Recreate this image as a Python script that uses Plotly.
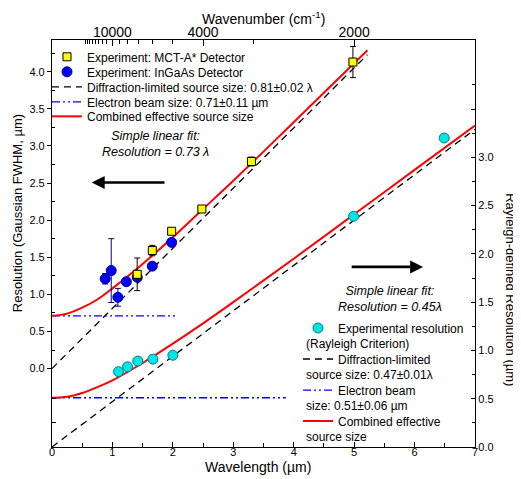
import plotly.graph_objects as go

FONT = "Liberation Sans, Arial, sans-serif"

# ---------------- Upper layer (left axis): Gaussian FWHM resolution ----------------
mct_wl = [1.41, 1.66, 1.98, 2.48, 3.30, 4.98]
mct_res = [1.27, 1.59, 1.85, 2.15, 2.79, 4.13]
mct_err = [0.22, 0.07, 0.04, 0.03, 0.06, 0.21]

ingaas_wl = [0.88, 0.98, 1.09, 1.23, 1.41, 1.66, 1.98]
ingaas_res = [1.21, 1.32, 0.96, 1.17, 1.23, 1.38, 1.70]
ingaas_err = [0.07, 0.43, 0.12, 0.04, 0.04, 0.04, 0.04]

upper_diff_wl = [0.0, 5.22]
upper_diff_res = [0.0, 4.23]
upper_beam_wl = [0.0, 2.08]
upper_beam_res = [0.71, 0.71]
upper_comb_wl = [0.0, 0.25, 0.5, 0.75, 1.0, 1.5, 2.0, 2.5, 3.0, 4.0, 5.22]
upper_comb_res = [0.71, 0.74, 0.82, 0.93, 1.08, 1.41, 1.77, 2.15, 2.53, 3.32, 4.29]

# ---------------- Lower layer (right axis): Rayleigh resolution ----------------
ray_wl = [1.10, 1.25, 1.42, 1.67, 2.00, 4.99, 6.49]
ray_res = [0.78, 0.83, 0.89, 0.91, 0.95, 2.39, 3.20]

lower_diff_wl = [0.0, 7.0]
lower_diff_res = [0.0, 3.29]
lower_beam_wl = [0.0, 3.87]
lower_beam_res = [0.51, 0.51]
lower_comb_wl = [0.0, 0.25, 0.5, 0.75, 1.0, 1.5, 2.0, 2.5, 3.0, 4.0, 5.0, 6.0, 7.0]
lower_comb_res = [0.51, 0.52, 0.56, 0.62, 0.69, 0.87, 1.07, 1.28, 1.50, 1.95, 2.41, 2.87, 3.33]

# ---------------- Axis ticks ----------------
bottom_ticks = [0, 1, 2, 3, 4, 5, 6, 7]
bottom_minor = [0.5, 1.5, 2.5, 3.5, 4.5, 5.5, 6.5]
left_ticks = [0.0, 0.5, 1.0, 1.5, 2.0, 2.5, 3.0, 3.5, 4.0]
left_minor = [0.25, 0.75, 1.25, 1.75, 2.25, 2.75, 3.25, 3.75, 4.25]
left_lower_ticks = [0.25, 0.5]      # lower-layer ticks on the left side (right-axis units)
right_ticks = [0.0, 0.5, 1.0, 1.5, 2.0, 2.5, 3.0, 3.5]
right_labels = ["0.0", "0.5", "1.0", "1.5", "2.0", "2.5", "3.0", ""]
right_minor = [0.25, 0.75, 1.25, 1.75, 2.25, 2.75, 3.25, 3.75]
wn_major = [10000, 4000, 2000]
wn_minor = [18000, 17000, 16000, 15000, 14000, 13000, 12000, 11000,
            9000, 8000, 7000, 6000, 5000, 3000]

# ---------------- Legend texts ----------------
upper_names = ["Experiment: MCT-A* Detector",
               "Experiment: InGaAs Detector",
               "Diffraction-limited source size: 0.81±0.02 λ",
               "Electron beam size: 0.71±0.11 µm",
               "Combined effective source size"]
lower_names = ["Experimental resolution", "Diffraction-limited",
               "Electron beam", "Combined effective"]
lower_names2 = ["(Rayleigh Criterion)", "source size: 0.47±0.01λ",
                "size: 0.51±0.06 µm", "source size"]

# page geometry: the page body has an 8px margin, so the figure is drawn at (8, 8)
OFF = 8
FIG_W, FIG_H = 521 - OFF, 479 - OFF
# plot-area edges in window pixels
L, R, T, B = 52, 475, 40, 446.7
PW, PH = R - L, B - T


def px_x(x):
    return (x - L) / PW


def px_y(y):
    return (B - y) / PH


upper_leg_centers = [57, 72, 87, 102, 116.5]
lower_leg_centers = [328, 359, 390, 421]
LEG_OFF = 14.5

fig = go.Figure()

# upper layer
fig.add_trace(go.Scatter(x=upper_diff_wl, y=upper_diff_res, mode="lines",
                         line=dict(color="black", width=1.3, dash="7px,5px"),
                         name=upper_names[2], legend="legend3"))
fig.add_trace(go.Scatter(x=upper_beam_wl, y=upper_beam_res, mode="lines",
                         line=dict(color="#0000FF", width=1.3, dash="8px,3px,2px,3px,2px,3px"),
                         name=upper_names[3], legend="legend4"))
fig.add_trace(go.Scatter(x=upper_comb_wl, y=upper_comb_res, mode="lines",
                         line=dict(color="#FF0000", width=2, shape="spline"),
                         name=upper_names[4], legend="legend5"))
fig.add_trace(go.Scatter(x=ingaas_wl, y=ingaas_res, mode="markers",
                         marker=dict(symbol="circle", size=10, color="#0000FF",
                                     line=dict(color="#00008B", width=1)),
                         error_y=dict(type="data", array=ingaas_err, color="#00008B",
                                      thickness=1, width=3),
                         name=upper_names[1], legend="legend2"))
fig.add_trace(go.Scatter(x=mct_wl, y=mct_res, mode="markers",
                         marker=dict(symbol="square", size=8, color="#FFFF00",
                                     line=dict(color="black", width=1)),
                         error_y=dict(type="data", array=mct_err, color="black",
                                      thickness=1, width=3),
                         name=upper_names[0], legend="legend"))

# lower layer (right axis)
fig.add_trace(go.Scatter(x=lower_diff_wl, y=lower_diff_res, mode="lines", yaxis="y2",
                         line=dict(color="black", width=1.3, dash="7px,5px"),
                         name=lower_names[1], legend="legend7"))
fig.add_trace(go.Scatter(x=lower_beam_wl, y=lower_beam_res, mode="lines", yaxis="y2",
                         line=dict(color="#0000FF", width=1.3, dash="8px,3px,2px,3px,2px,3px"),
                         name=lower_names[2], legend="legend8"))
fig.add_trace(go.Scatter(x=lower_comb_wl, y=lower_comb_res, mode="lines", yaxis="y2",
                         line=dict(color="#FF0000", width=2, shape="spline"),
                         name=lower_names[3], legend="legend9"))
fig.add_trace(go.Scatter(x=ray_wl, y=ray_res, mode="markers", yaxis="y2",
                         marker=dict(symbol="circle", size=10, color="#00E6E6",
                                     line=dict(color="#008080", width=1)),
                         name=lower_names[0], legend="legend6"))

# dummy traces to carry the decorative axes
fig.add_trace(go.Scatter(x=[None], y=[None], xaxis="x2", yaxis="y",
                         showlegend=False, hoverinfo="skip"))
fig.add_trace(go.Scatter(x=[None], y=[None], xaxis="x", yaxis="y3",
                         showlegend=False, hoverinfo="skip"))

axis_common = dict(showline=True, linecolor="black", linewidth=1.2, showgrid=False,
                   zeroline=False, tickcolor="black", tickwidth=1, automargin=False)


def leg(xp, ycenter):
    return dict(x=xp, y=px_y(ycenter - LEG_OFF), xanchor="left", yanchor="top",
                bgcolor="rgba(0,0,0,0)", borderwidth=0,
                font=dict(family=FONT, size=12, color="black"), itemwidth=30,
                tracegroupgap=0, valign="top")


legends = {}
keys = ["legend", "legend2", "legend3", "legend4", "legend5"]
for k, yc in zip(keys, upper_leg_centers):
    legends[k] = leg(px_x(47), yc)
keys2 = ["legend6", "legend7", "legend8", "legend9"]
for k, yc in zip(keys2, lower_leg_centers):
    legends[k] = leg(px_x(298), yc)

fig.update_layout(
    width=FIG_W, height=FIG_H,
    margin=dict(l=L - OFF, r=OFF + FIG_W - R, t=T - OFF, b=OFF + FIG_H - B,
                pad=0, autoexpand=False),
    plot_bgcolor="white", paper_bgcolor="white",
    font=dict(family=FONT, size=11, color="black"),
    xaxis=dict(range=[0, 7], tickmode="array", tickvals=bottom_ticks,
               ticks="inside", ticklen=5, ticklabelstandoff=-5,
               minor=dict(tickmode="array", tickvals=bottom_minor, ticks="inside",
                          ticklen=4, tickcolor="black"),
               **axis_common),
    xaxis2=dict(range=[0, 7], overlaying="x", side="top", anchor="y",
                tickmode="array", tickvals=[1e4 / w for w in wn_major],
                ticktext=[str(w) for w in wn_major],
                ticks="inside", ticklen=6, tickfont=dict(size=14), ticklabelstandoff=-4,
                minor=dict(tickmode="array", tickvals=[1e4 / w for w in wn_minor],
                           ticks="inside", ticklen=4, tickcolor="black"),
                **axis_common),
    yaxis=dict(range=[-1.057, 4.427], tickmode="array", tickvals=left_ticks,
               ticktext=[f"{v:.1f}" for v in left_ticks],
               ticks="outside", ticklen=4,
               minor=dict(tickmode="array", tickvals=left_minor, ticks="inside",
                          ticklen=3, tickcolor="black"),
               **axis_common),
    yaxis2=dict(range=[0, 4.215], overlaying="y", side="right", anchor="x",
                tickmode="array", tickvals=right_ticks, ticktext=right_labels,
                ticks="inside", ticklen=4,
                minor=dict(tickmode="array", tickvals=right_minor, ticks="inside",
                           ticklen=3, tickcolor="black"),
                **axis_common),
    yaxis3=dict(range=[0, 4.215], overlaying="y", side="left", anchor="x",
                tickmode="array", tickvals=left_lower_ticks, showticklabels=False,
                ticks="inside", ticklen=4, tickcolor="black", showline=False,
                showgrid=False, zeroline=False, automargin=False),
    showlegend=True,
    **legends,
)

annotations = [
    dict(text="Resolution (Gaussian FWHM, µm)", xref="paper", yref="paper",
         x=px_x(17), y=px_y(213), textangle=-90, showarrow=False,
         font=dict(size=13), xanchor="center", yanchor="middle"),
    dict(text="Rayleigh-defined Resolution (µm)", xref="paper", yref="paper",
         x=px_x(511), y=px_y(290), textangle=90, showarrow=False,
         font=dict(size=13), xanchor="center", yanchor="middle"),
    dict(text="Wavelength (µm)", xref="paper", yref="paper",
         x=px_x(258), y=px_y(467), showarrow=False,
         font=dict(size=14), xanchor="center", yanchor="middle"),
    dict(text="Wavenumber (cm<sup>-1</sup>)", xref="paper", yref="paper",
         x=px_x(263), y=px_y(18), showarrow=False,
         font=dict(size=14), xanchor="center", yanchor="middle"),
    dict(text="<i>Simple linear fit:</i><br><i>Resolution = 0.73 λ</i>", xref="x", yref="y",
         x=1.705, y=3.02, showarrow=False, font=dict(size=12.5), align="center"),
    dict(text="<i>Simple linear fit:</i><br><i>Resolution = 0.45λ</i>", xref="x", yref="y2",
         x=5.6, y=1.53, showarrow=False, font=dict(size=12.5), align="center"),
    dict(text="", xref="x", yref="y", x=0.657, y=2.507, axref="x", ayref="y",
         ax=1.887, ay=2.507, showarrow=True, arrowhead=2, arrowsize=1,
         arrowwidth=2.6, arrowcolor="black", standoff=0),
    dict(text="", xref="x", yref="y2", x=6.142, y=1.865, axref="x", ayref="y2",
         ax=4.934, ay=1.865, showarrow=True, arrowhead=2, arrowsize=1,
         arrowwidth=2.6, arrowcolor="black", standoff=0),
]
for txt, yc in zip(lower_names2, lower_leg_centers):
    annotations.append(dict(text=txt, xref="paper", yref="paper",
                            x=px_x(304), y=px_y(yc + 15.6), showarrow=False,
                            font=dict(size=12), xanchor="left", yanchor="middle"))
fig.update_layout(annotations=annotations)

fig.write_html("out.html")
